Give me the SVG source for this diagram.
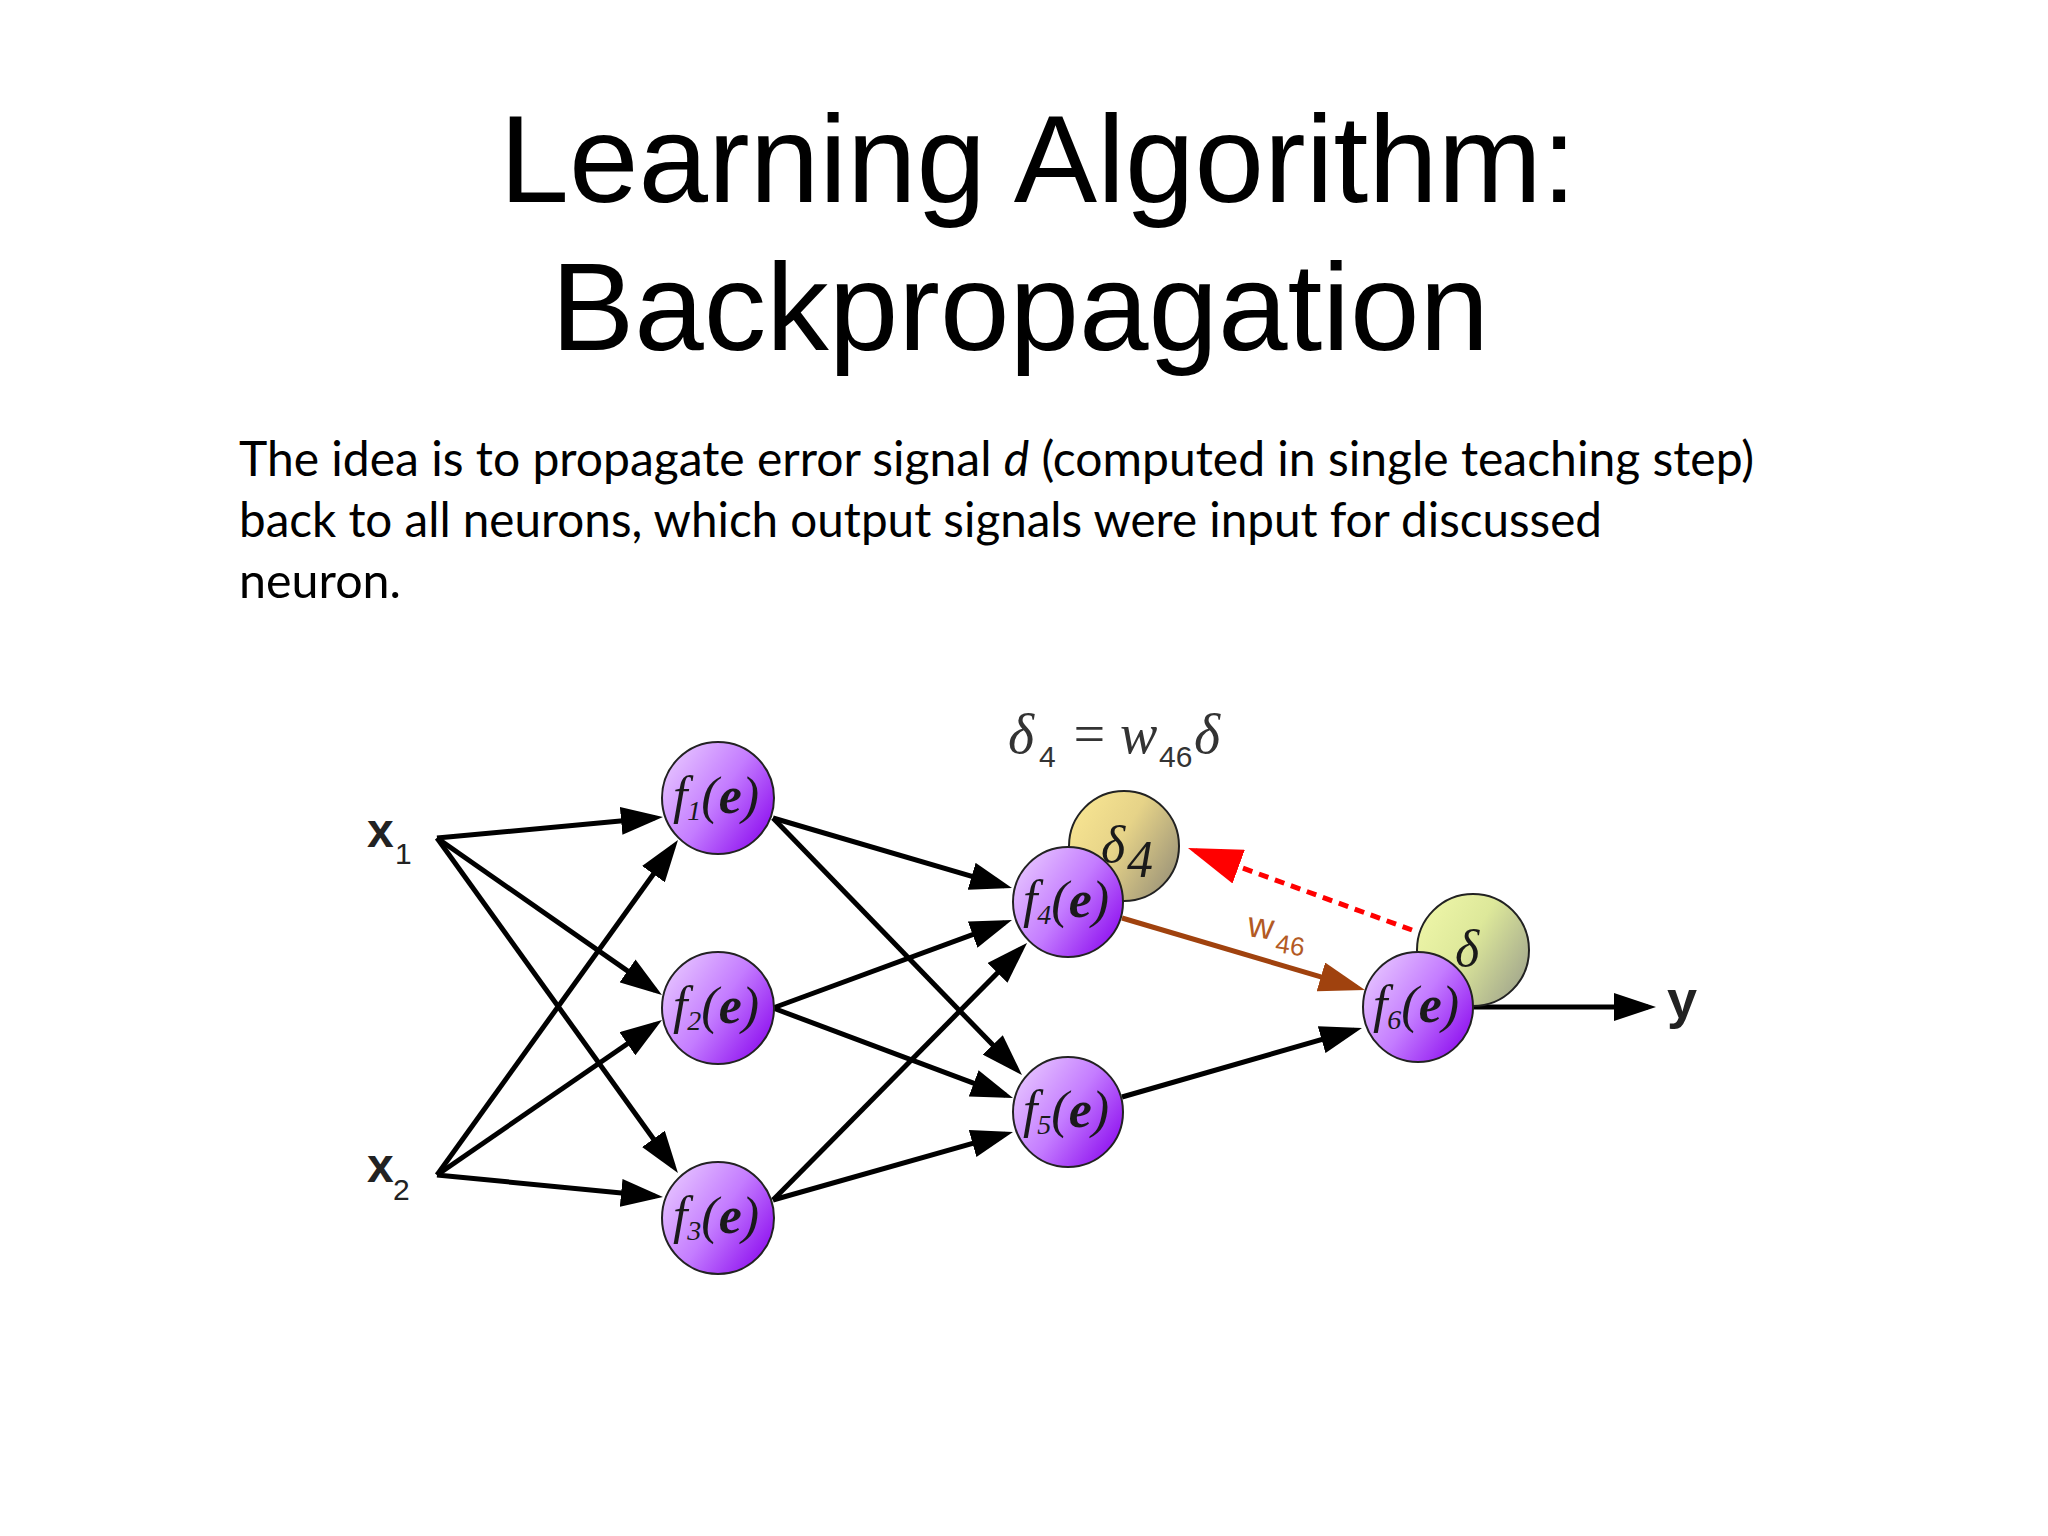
<svg xmlns="http://www.w3.org/2000/svg" width="2048" height="1536" viewBox="0 0 2048 1536">
<style>
.title{font-family:"Liberation Sans",Arial,sans-serif;font-size:125px;fill:#000}
.body{font-family:Lato,"Open Sans",sans-serif;font-size:48px;fill:#000}
.blk{stroke:#000;stroke-width:5;fill:none;marker-end:url(#ah)}
.ftxt{font-family:"Liberation Serif",serif;font-style:italic;font-size:52px;fill:#1a1a1a}
.sub{font-size:28px}
.node{stroke:#222;stroke-width:2}
.lbl{font-family:"Liberation Sans",Arial,sans-serif;fill:#222}
.math{font-family:"Liberation Serif",serif;font-style:italic;font-size:56px;fill:#333}
.mathsub{font-family:"Liberation Sans",Arial,sans-serif;font-size:30px;fill:#333}
</style>
<defs>
<marker id="ah" markerUnits="userSpaceOnUse" markerWidth="42" markerHeight="28" refX="34" refY="14" orient="auto">
<path d="M0,0 L42,14 L0,28 Z" fill="#000"/>
</marker>
<marker id="ahb" markerUnits="userSpaceOnUse" markerWidth="46" markerHeight="30" refX="38" refY="15" orient="auto">
<path d="M0,0 L46,15 L0,30 Z" fill="#a0420e"/>
</marker>
<marker id="ahr" markerUnits="userSpaceOnUse" markerWidth="54" markerHeight="36" refX="46" refY="18" orient="auto">
<path d="M0,0 L54,18 L0,36 Z" fill="#ff0000"/>
</marker>
<linearGradient id="gp" x1="0" y1="0.15" x2="1" y2="0.85">
<stop offset="0" stop-color="#e8c8ff"/>
<stop offset="0.5" stop-color="#c47cff"/>
<stop offset="1" stop-color="#8a08ee"/>
</linearGradient>
<linearGradient id="gy" x1="0" y1="0.2" x2="1" y2="0.8">
<stop offset="0" stop-color="#f8e592"/>
<stop offset="0.45" stop-color="#e6d388"/>
<stop offset="1" stop-color="#9a9278"/>
</linearGradient>
<linearGradient id="gg" x1="0" y1="0.2" x2="1" y2="0.8">
<stop offset="0" stop-color="#eef6a8"/>
<stop offset="0.45" stop-color="#dde89a"/>
<stop offset="1" stop-color="#a0a48c"/>
</linearGradient>
</defs>
<rect width="2048" height="1536" fill="#fff"/>

<g id="title">
<text class="title" x="1038" y="202" text-anchor="middle">Learning Algorithm:</text>
<text class="title" x="1020" y="350" text-anchor="middle">Backpropagation</text>
</g>

<g id="description">
<text class="body" x="239" y="476" textLength="1515" lengthAdjust="spacingAndGlyphs">The idea is to propagate error signal <tspan font-style="italic">d</tspan> (computed in single teaching step)</text>
<text class="body" x="239" y="537" textLength="1363" lengthAdjust="spacingAndGlyphs">back to all neurons, which output signals were input for discussed</text>
<text class="body" x="239" y="598" textLength="162" lengthAdjust="spacingAndGlyphs">neuron.</text>
</g>

<g id="connectors">
<line class="blk" x1="437" y1="838" x2="655.0" y2="817.7"/>
<line class="blk" x1="437" y1="838" x2="655.4" y2="990.4"/>
<line class="blk" x1="437" y1="838" x2="673.3" y2="1166.5"/>
<line class="blk" x1="437" y1="1175" x2="673.3" y2="846.5"/>
<line class="blk" x1="437" y1="1175" x2="655.4" y2="1024.5"/>
<line class="blk" x1="437" y1="1175" x2="655.0" y2="1196.2"/>
<line class="blk" x1="773" y1="818" x2="1004.3" y2="885.8"/>
<line class="blk" x1="773" y1="818" x2="1016.4" y2="1069.3"/>
<line class="blk" x1="773" y1="1008" x2="1004.5" y2="922.8"/>
<line class="blk" x1="773" y1="1008" x2="1005.5" y2="1095.2"/>
<line class="blk" x1="773" y1="1200" x2="1021.4" y2="948.7"/>
<line class="blk" x1="773" y1="1200" x2="1005.3" y2="1134.2"/>
<line class="blk" x1="1122" y1="1097" x2="1354.3" y2="1030.2"/>
<line class="blk" x1="1473" y1="1007" x2="1648" y2="1007"/>
<line x1="1122" y1="918" x2="1357.3" y2="987.7" stroke="#a0420e" stroke-width="5" marker-end="url(#ahb)"/>
<line x1="1412" y1="930" x2="1195.5" y2="850.8" stroke="#ff0000" stroke-width="5" stroke-dasharray="10,7" marker-end="url(#ahr)"/>
</g>

<g id="label-x1" class="lbl"><text x="367" y="847" font-size="48" font-weight="bold">x</text><text x="395" y="864" font-size="30">1</text></g>
<g id="label-x2" class="lbl"><text x="367" y="1182" font-size="48" font-weight="bold">x</text><text x="393" y="1200" font-size="30">2</text></g>
<g id="label-y" class="lbl"><text x="1667" y="1018" font-size="54" font-weight="bold">y</text></g>

<g id="label-w46" transform="rotate(8 1275 935)">
<text x="1247" y="940" font-family="Liberation Sans,Arial,sans-serif" font-size="36" fill="#b35a24">w</text>
<text x="1277" y="952" font-family="Liberation Sans,Arial,sans-serif" font-size="26" fill="#b35a24">46</text>
</g>

<g id="formula">
<text class="math" x="1008" y="753">δ</text>
<text class="mathsub" x="1039" y="767">4</text>
<text class="math" x="1070" y="753" font-style="normal">=</text>
<text class="math" x="1120" y="753">w</text>
<text class="mathsub" x="1159" y="767">46</text>
<text class="math" x="1194" y="753">δ</text>
</g>

<g id="node-f1"><circle class="node" cx="718" cy="798" r="56" fill="url(#gp)"/><text class="ftxt" x="716" y="813" text-anchor="middle">f<tspan class="sub" dy="7">1</tspan><tspan dy="-7">(<tspan font-weight="bold">e</tspan>)</tspan></text></g>
<g id="node-f2"><circle class="node" cx="718" cy="1008" r="56" fill="url(#gp)"/><text class="ftxt" x="716" y="1023" text-anchor="middle">f<tspan class="sub" dy="7">2</tspan><tspan dy="-7">(<tspan font-weight="bold">e</tspan>)</tspan></text></g>
<g id="node-f3"><circle class="node" cx="718" cy="1218" r="56" fill="url(#gp)"/><text class="ftxt" x="716" y="1233" text-anchor="middle">f<tspan class="sub" dy="7">3</tspan><tspan dy="-7">(<tspan font-weight="bold">e</tspan>)</tspan></text></g>

<g id="node-delta4"><circle class="node" cx="1124" cy="846" r="55" fill="url(#gy)"/><text class="ftxt" x="1101" y="862" font-size="50">δ</text><text class="ftxt" x="1127" y="877" font-size="28">4</text></g>
<g id="node-f4"><circle class="node" cx="1068" cy="902" r="55" fill="url(#gp)"/><text class="ftxt" x="1066" y="917" text-anchor="middle">f<tspan class="sub" dy="7">4</tspan><tspan dy="-7">(<tspan font-weight="bold">e</tspan>)</tspan></text></g>
<g id="node-f5"><circle class="node" cx="1068" cy="1112" r="55" fill="url(#gp)"/><text class="ftxt" x="1066" y="1127" text-anchor="middle">f<tspan class="sub" dy="7">5</tspan><tspan dy="-7">(<tspan font-weight="bold">e</tspan>)</tspan></text></g>

<g id="node-delta"><circle class="node" cx="1473" cy="950" r="56" fill="url(#gg)"/><text class="ftxt" x="1455" y="966">δ</text></g>
<g id="node-f6"><circle class="node" cx="1418" cy="1007" r="55" fill="url(#gp)"/><text class="ftxt" x="1416" y="1022" text-anchor="middle">f<tspan class="sub" dy="7">6</tspan><tspan dy="-7">(<tspan font-weight="bold">e</tspan>)</tspan></text></g>
</svg>
